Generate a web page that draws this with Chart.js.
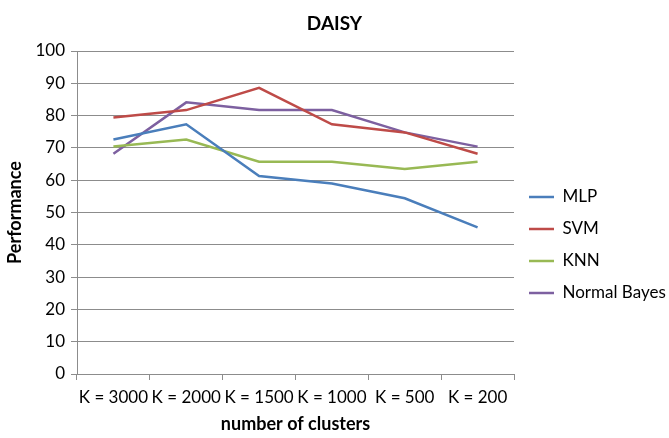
<!DOCTYPE html>
<html>
<head>
<meta charset="utf-8">
<script src="https://cdn.jsdelivr.net/npm/chart.js@4.4.1/dist/chart.umd.min.js"></script>
<style>
  html, body { margin: 0; padding: 0; background: #fff; }
  #wrap { width: 669px; height: 438px; }
</style>
</head>
<body>
<div id="wrap"><canvas id="c" width="669" height="438"></canvas></div>
<script>
// Number of clusters on the x axis
const categories = ['K = 3000', 'K = 2000', 'K = 1500', 'K = 1000', 'K = 500', 'K = 200'];

// Performance of each classifier
const mlp         = [72.6, 77.3, 61.3, 59.0, 54.4, 45.4];
const svm         = [79.4, 81.7, 88.6, 77.3, 74.8, 68.2];
const knn         = [70.4, 72.6, 65.7, 65.7, 63.5, 65.7];
const normalBayes = [68.2, 84.1, 81.7, 81.7, 74.8, 70.4];

const seriesNames = ['MLP', 'SVM', 'KNN', 'Normal Bayes'];
const seriesColors = ['#4a7ebb', '#be4b48', '#98b954', '#7d60a0'];
const seriesValues = [mlp, svm, knn, normalBayes];

const FONT = 'Lato, "Liberation Sans", sans-serif';
const GRID = '#8c8c8c';

const datasets = seriesNames.map((name, i) => ({
  label: name,
  data: seriesValues[i],
  borderColor: seriesColors[i],
  backgroundColor: seriesColors[i],
  borderWidth: 2.5,
  pointRadius: 0,
  pointHoverRadius: 0,
  tension: 0,
  fill: false
}));

new Chart(document.getElementById('c'), {
  type: 'line',
  data: { labels: categories, datasets },
  options: {
    responsive: false,
    animation: false,
    layout: { padding: { left: 0, right: 0, top: 0, bottom: 0 } },
    plugins: {
      tooltip: { enabled: false },
      title: {
        display: true,
        text: 'DAISY',
        color: '#000',
        font: { family: FONT, size: 19, weight: 'bold', lineHeight: 1.2 },
        padding: { top: 12, bottom: 16.2 }
      },
      legend: {
        position: 'right',
        maxWidth: 155,
        title: { display: true, text: '', font: { size: 10, lineHeight: 1.2 }, padding: 20 },
        labels: {
          usePointStyle: true,
          pointStyle: 'line',
          pointStyleWidth: 25,
          padding: 15,
          color: '#000',
          font: { family: FONT, size: 17 }
        }
      }
    },
    scales: {
      x: {
        type: 'category',
        offset: true,
        grid: {
          offset: true,
          drawOnChartArea: false,
          drawTicks: true,
          tickLength: 6,
          color: GRID
        },
        border: { display: true, color: GRID, width: 1 },
        ticks: {
          color: '#000',
          autoSkip: false,
          maxRotation: 0,
          padding: 7,
          font: { family: FONT, size: 17 }
        },
        title: {
          display: true,
          text: 'number of clusters',
          color: '#000',
          font: { family: FONT, size: 18, weight: 'bold' },
          padding: { top: 4, bottom: 3 }
        },
        afterFit: (s) => { s.height = 64; }
      },
      y: {
        min: 0,
        max: 100,
        grid: {
          color: GRID,
          tickLength: 6,
          drawTicks: true
        },
        border: { display: true, color: GRID, width: 1 },
        ticks: {
          stepSize: 10,
          color: '#000',
          padding: 6,
          font: { family: FONT, size: 17 }
        },
        title: {
          display: true,
          text: 'Performance',
          color: '#000',
          font: { family: FONT, size: 18, weight: 'bold' },
          padding: { top: 4, bottom: 4 }
        },
        afterFit: (s) => { s.width = 77; }
      }
    }
  }
});
</script>
</body>
</html>
